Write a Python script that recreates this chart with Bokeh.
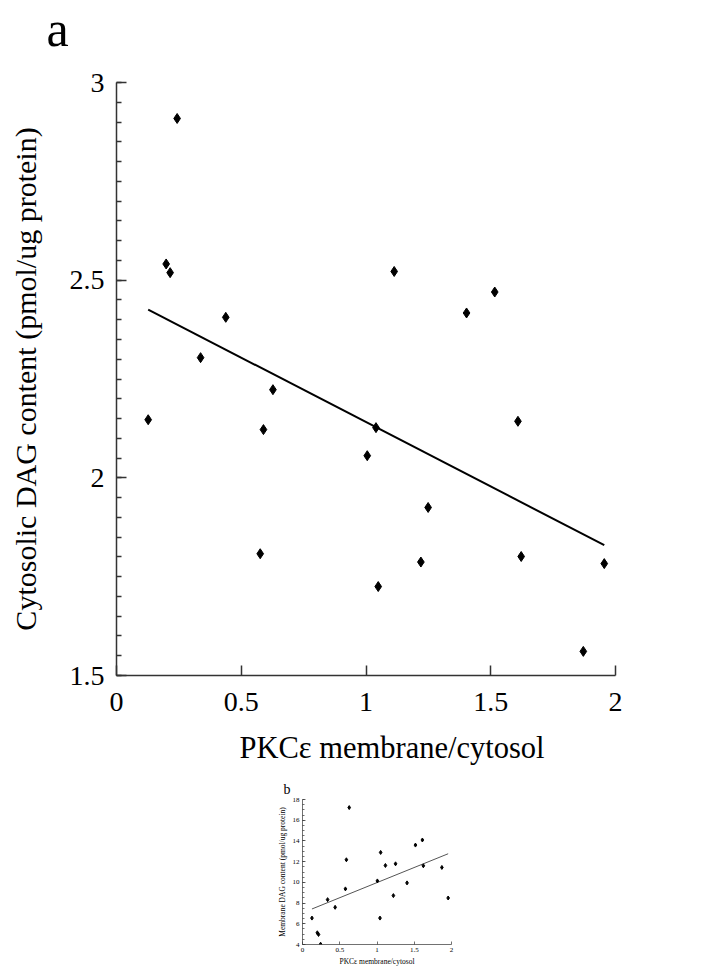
import numpy as np
from bokeh.plotting import figure
from bokeh.layouts import column
from bokeh.models import FixedTicker, Title, ColumnDataSource
from bokeh.embed import file_html
from bokeh.resources import INLINE

# ---- data ----
pkce = [0.127, 0.199, 0.215, 0.243, 0.337, 0.438, 0.576, 0.589, 0.627, 1.005, 1.040,
        1.049, 1.113, 1.220, 1.249, 1.403, 1.516, 1.609, 1.622, 1.871, 1.955]
cyto_dag = [2.147, 2.541, 2.519, 2.909, 2.304, 2.406, 1.808, 2.122, 2.223, 2.056, 2.127,
            1.725, 2.522, 1.787, 1.925, 2.417, 2.470, 2.143, 1.801, 1.561, 1.783]
memb_dag = [6.55, 5.13, 4.97, 4.03, 8.33, 7.59, 9.37, 12.18, 17.22, 10.14, 6.55,
            12.89, 11.63, 8.72, 11.79, 9.95, 13.60, 14.09, 11.60, 11.44, 8.49]

fit_a = [-0.326, 2.467]   # slope, intercept
fit_b = [2.916, 7.06]

x_ticks = [0, 0.5, 1, 1.5, 2]
x_tick_labels = ["0", "0.5", "1", "1.5", "2"]
ya_ticks = [1.5, 2, 2.5, 3]
ya_tick_labels = ["1.5", "2", "2.5", "3"]
yb_ticks = [4, 6, 8, 10, 12, 14, 16, 18]
yb_tick_labels = ["4", "6", "8", "10", "12", "14", "16", "18"]

FONT = "Liberation Serif"
AX = "#333333"


def style_axes(p, xt, xl, yt, yl, yminor, fs_tick, fs_lab, tick_in, minor_in,
               lw, lab_std_x, lab_std_y, tick_std_x, tick_std_y):
    p.outline_line_color = None
    p.grid.visible = False
    p.background_fill_color = "white"
    p.border_fill_color = "white"
    p.xaxis.ticker = FixedTicker(ticks=xt, minor_ticks=[])
    p.yaxis.ticker = FixedTicker(ticks=yt, minor_ticks=yminor)
    p.xaxis.major_label_overrides = {t: l for t, l in zip(xt, xl)}
    p.yaxis.major_label_overrides = {t: l for t, l in zip(yt, yl)}
    for ax in (p.xaxis[0], p.yaxis[0]):
        ax.axis_line_color = AX
        ax.axis_line_width = lw
        ax.major_tick_line_color = AX
        ax.minor_tick_line_color = AX
        ax.major_tick_line_width = lw
        ax.minor_tick_line_width = lw
        ax.major_tick_in = tick_in
        ax.major_tick_out = 0
        ax.minor_tick_in = minor_in
        ax.minor_tick_out = 0
        ax.major_label_text_font = FONT
        ax.major_label_text_font_size = f"{fs_tick}px"
        ax.major_label_text_color = "black"
        ax.axis_label_text_font = FONT
        ax.axis_label_text_font_size = f"{fs_lab}px"
        ax.axis_label_text_font_style = "normal"
        ax.axis_label_text_color = "black"
    p.xaxis.major_label_standoff = tick_std_x
    p.yaxis.major_label_standoff = tick_std_y
    p.xaxis.axis_label_standoff = lab_std_x
    p.yaxis.axis_label_standoff = lab_std_y


def panel_text(text, size, offset, standoff):
    return Title(text=text, align="left", offset=offset, standoff=standoff,
                 text_font=FONT, text_font_size=size, text_font_style="normal",
                 text_color="black")


# ---- panel a ----
# the canvas starts 46px above the page so the big "a" can sit high
pa = figure(width=721, height=846, x_range=(0, 2), y_range=(1.5, 3),
            output_backend="svg", toolbar_location=None, frame_align=False,
            margin=(-46, 0, 0, 0),
            min_border_left=116, min_border_right=106,
            min_border_top=128, min_border_bottom=125)
pa.yaxis.axis_label = "Cytosolic DAG content (pmol/ug protein)"
style_axes(pa, x_ticks, x_tick_labels, ya_ticks, ya_tick_labels,
           list(np.round(np.arange(1.5, 3.0001, 0.05), 3)),
           28, 30, 10, 5, 1.5, 15, 25, 17, 12)

src = ColumnDataSource(dict(x=pkce, ya=cyto_dag, yb=memb_dag))
xa = np.array([min(pkce), max(pkce)])
pa.line(xa, fit_a[0] * xa + fit_a[1], line_color="black", line_width=2)
pa.scatter("x", "ya", source=src, marker="diamond", size=10,
           fill_color="black", line_color="black", line_width=1)
pa.add_layout(panel_text("a", "50px", -70, 51), "above")
pa.add_layout(panel_text("PKC\u03b5 membrane/cytosol", "30.5px", 123, 30), "below")

# ---- panel b ----
pb = figure(width=721, height=194, x_range=(0, 2), y_range=(4, 18),
            output_backend="svg", toolbar_location=None, frame_align=False,
            margin=(-25, 0, 0, 0),
            min_border_left=302, min_border_right=270,
            min_border_top=24, min_border_bottom=25)
pb.xaxis.axis_label = "PKC\u03b5 membrane/cytosol"
pb.yaxis.axis_label = "Membrane DAG content (pmol/ug protein)"
style_axes(pb, x_ticks, x_tick_labels, yb_ticks, yb_tick_labels,
           list(np.round(np.arange(4, 18.0001, 0.5), 2)),
           7, 7.5, 3, 2, 0.7, 2, 3, 3, 3)
pb.line(xa, fit_b[0] * xa + fit_b[1], line_color="#555555", line_width=1)
pb.scatter("x", "yb", source=src, marker="diamond", size=4,
           fill_color="black", line_color="black")
pb.add_layout(panel_text("b", "14px", -19, 6), "above")

layout = column(pa, pb)
open("out.html", "w").write(file_html(layout, INLINE))
